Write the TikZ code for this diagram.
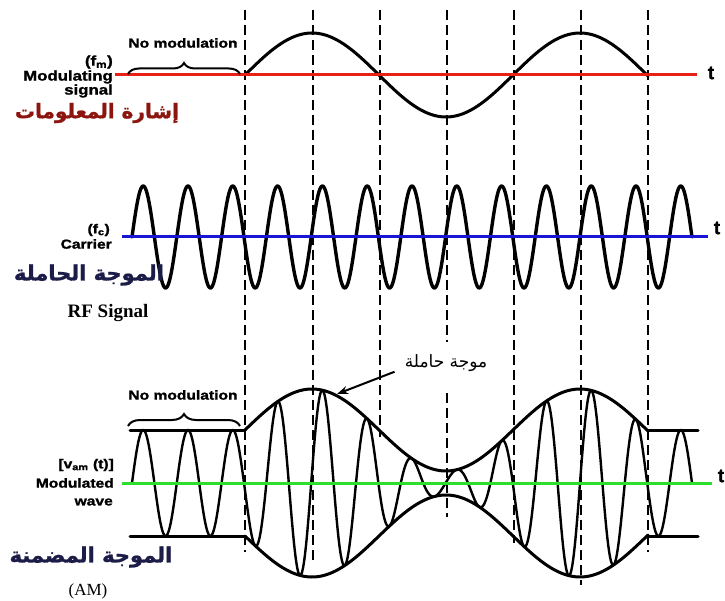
\documentclass[tikz,border=0pt]{standalone}
\usepackage{fontspec}
\usepackage{graphicx}
\setmainfont{Liberation Serif}
\newfontfamily\labfont[BoldFeatures={FakeBold=1.3}]{Liberation Sans}
\newfontfamily\arabfont[Script=Arabic, BoldFeatures={FakeBold=1.2}]{DejaVu Sans}
\TeXXeTstate=1
\usetikzlibrary{decorations.pathreplacing,arrows.meta}
\definecolor{redline}{RGB}{232,32,22}
\definecolor{blueline}{RGB}{22,22,212}
\definecolor{greenline}{RGB}{45,222,45}
\definecolor{arabred}{RGB}{140,22,15}
\definecolor{arabnavy}{RGB}{28,28,72}
\newcommand\widelab[1]{\scalebox{1.2}[1]{#1}}
\tikzset{
  wave/.style={line width=3pt, line cap=round, line join=round},
  thinwave/.style={line width=2.4pt, line cap=round, line join=round},
  dashline/.style={line width=2.4pt, dash pattern=on 10pt off 5pt},
  axisline/.style={line width=3pt},
  eng/.style={inner sep=0pt, font=\labfont\bfseries\fontsize{13}{14}\selectfont},
  engbig/.style={inner sep=0pt, font=\labfont\bfseries\fontsize{14}{15}\selectfont},
  tlab/.style={inner sep=0pt, font=\labfont\bfseries\fontsize{19}{20}\selectfont},
  arab/.style={inner sep=0pt, font=\arabfont\bfseries\fontsize{#1}{22}\selectfont},
  bracestyle/.style={line width=2pt, decorate, decoration={brace, amplitude=#1}},
  declare function={env(\x)=53+41*sin((\x-245)*1.34328); car(\x)=sin((\x-132)*8.03571);}
}
\begin{document}
\begin{tikzpicture}[x=1pt,y=-1pt]
\useasboundingbox[fill=white] (0,0) rectangle (725,601);

% dashed vertical guide lines
\foreach \xx/\yb in {245/552,313/563,380/437,514/543,581/585,648/552}
  \draw[dashline] (\xx,10) -- (\xx,\yb);
\draw[dashline] (447,10) -- (447,342);
\draw[dashline] (447,393) -- (447,517);

% ---------- modulating signal ----------
\draw[wave] plot[domain=245:648, samples=200] (\x, {75 - 42*sin((\x-245)*1.34328)});
\draw[axisline, redline] (115,75) -- (697,75);
\node[tlab] (t1) at (711,73) {t};
\node[eng] (nomod1) at (183,43) {\widelab{No modulation}};
\draw[bracestyle=11pt] (128,74) -- (240,74);
\node[engbig, anchor=east] (fm) at (113,62) {\widelab{(f\textsubscript{m})}};
\node[engbig, anchor=east] (modg) at (113,77) {\widelab{Modulating}};
\node[engbig, anchor=east] (sig) at (113,91) {\widelab{signal}};
\node[arab=20, text=arabred] (ar1) at (97,113) {\beginR إشارة المعلومات\endR};

% ---------- carrier ----------
\draw[wave, line width=3.4pt] plot[domain=132:692, samples=700] (\x, {237 - 51*car(\x)});
\draw[axisline, blueline] (122,237) -- (708,237);
\node[tlab] (t2) at (717,228) {t};
\node[eng, anchor=east] (fc) at (110,230) {\widelab{(f\textsubscript{c})}};
\node[eng, anchor=east] (carr) at (112,244) {\widelab{Carrier}};
\node[arab=21, text=arabnavy] (ar2) at (89,275) {\beginR الموجة الحاملة\endR};
\node[inner sep=0pt, font=\bfseries\fontsize{19}{21}\selectfont] (rf) at (108,313) {RF Signal};

% ---------- modulated wave ----------
\draw[thinwave] plot[domain=132:245, samples=160] (\x, {483 - 53*car(\x)});
\draw[thinwave] plot[domain=245:648, samples=700] (\x, {483 - env(\x)*car(\x)});
\draw[thinwave] plot[domain=648:692, samples=70] (\x, {483 - 53*car(\x)});
\draw[wave] plot[domain=245:648, samples=200] (\x, {483 - env(\x)});
\draw[wave] plot[domain=245:648, samples=200] (\x, {483 + env(\x)});
\draw[wave] (130,430) -- (245,430);
\draw[wave] (130,536) -- (245,536);
\draw[wave] (648,430) -- (698,430);
\draw[wave] (648,536) -- (698,536);
\draw[axisline, greenline] (122,483) -- (712,483);
\node[tlab] (t3) at (721,476) {t};
\node[eng] (nomod2) at (183,395) {\widelab{No modulation}};
\draw[bracestyle=12pt] (128,426) -- (240,426);
\node[eng, anchor=east] (vam) at (114,465) {\widelab{[v\textsubscript{am} (t)]}};
\node[eng, anchor=east] (modw) at (114,483) {\widelab{Modulated}};
\node[eng, anchor=east] (wave) at (113,502) {\widelab{wave}};
\node[arab=21, text=arabnavy] (ar3) at (91,557) {\beginR الموجة المضمنة\endR};
\node[inner sep=0pt, font=\fontsize{17}{19}\selectfont] (am) at (88,591) {(AM)};

% carrier label with arrow to envelope
\node[inner sep=0pt, font=\arabfont\fontsize{17}{20}\selectfont] (cw) at (446,363) {\beginR موجة حاملة\endR};
\coordinate (tip) at (337,394);
\draw[line width=2pt, -{Stealth[length=11pt,width=8pt]}] ([xshift=-10pt,yshift=0pt]cw.south west) -- (tip);
\end{tikzpicture}
\end{document}
